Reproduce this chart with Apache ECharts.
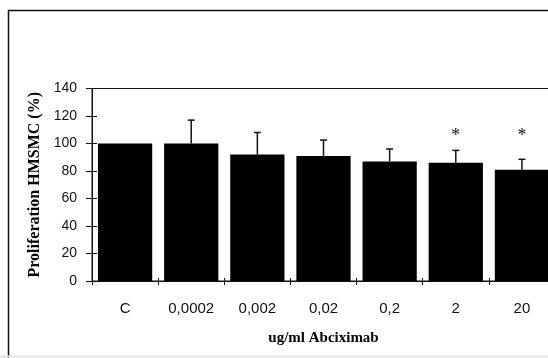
<!DOCTYPE html>
<html><head><meta charset="utf-8">
<script src="https://cdn.jsdelivr.net/npm/echarts@6/dist/echarts.min.js"></script>
<style>html,body{margin:0;padding:0;background:#fff}#c{width:548px;height:358px}</style>
</head><body><div id="c"></div>
<script>
const categories = ['C', '0,0002', '0,002', '0,02', '0,2', '2', '20'];
const values = [100, 100, 92, 91, 87, 86, 81];
const errors = [0, 17, 16, 11.5, 9, 9, 7.5];
const starMarks = ['', '', '', '', '', '*', '*'];
const starLevels = [null, null, null, null, null, 108, 108];
const yMin = 0, yMax = 140, yStep = 20;
const xTitle = 'ug/ml Abciximab';
const yTitle = 'Proliferation HMSMC (%)';

const chart = echarts.init(document.getElementById('c'), null, {renderer: 'canvas'});
const sansLabel = {fontFamily: 'Liberation Sans, Arial, sans-serif', color: '#111'};
const serifBold = {fontFamily: 'Liberation Serif, Times New Roman, serif', fontWeight: 'bold', color: '#000', fontSize: 15};
const serifBoldY = Object.assign({}, serifBold, {fontSize: 16});
const starData = starLevels.map((v, i) => [i, v, starMarks[i]]).filter(d => d[1] !== null);

chart.setOption({
  animation: false,
  backgroundColor: '#fff',
  graphic: [
    {type: 'polyline', shape: {points: [[8.5, 358], [8.5, 10.5], [548, 10.5]]}, style: {stroke: '#111', lineWidth: 1.5, fill: null}},
    {type: 'line', shape: {x1: 0, y1: 356.5, x2: 548, y2: 356.5}, style: {stroke: '#e4e4e4', lineWidth: 2}}
  ],
  grid: {left: 92, top: 88.5, width: 463, height: 192.5, outerBoundsMode: 'none', containLabel: false, show: true, borderColor: '#111', borderWidth: 1, backgroundColor: 'transparent'},
  xAxis: [
    {type: 'category', data: categories, position: 'bottom',
     axisLine: {lineStyle: {color: '#111', width: 1}},
     axisTick: {show: true, length: 4, lineStyle: {color: '#111'}},
     axisLabel: Object.assign({fontSize: 15, margin: 20}, sansLabel),
     name: xTitle, nameLocation: 'middle', nameGap: 50, nameTextStyle: serifBold},
    {type: 'category', data: categories, position: 'bottom',
     axisLine: {show: false}, axisTick: {show: true, inside: true, length: 3, lineStyle: {color: '#111'}},
     axisLabel: {show: false}}
  ],
  yAxis: [
    {type: 'value', min: yMin, max: yMax, interval: yStep, position: 'left',
     axisLine: {show: true, lineStyle: {color: '#111'}},
     axisTick: {show: true, length: 6, lineStyle: {color: '#111'}},
     splitLine: {show: false},
     axisLabel: Object.assign({fontSize: 14, margin: 15}, sansLabel),
     name: yTitle, nameLocation: 'middle', nameGap: 49, nameRotate: 90, nameTextStyle: serifBoldY},
    {type: 'value', min: yMin, max: yMax, interval: yStep, position: 'left', offset: 0,
     axisLine: {show: false}, axisTick: {show: true, inside: true, length: 5, lineStyle: {color: '#111'}},
     axisLabel: {show: false}, splitLine: {show: false}}
  ],
  series: [
    {type: 'bar', data: values, barWidth: '82%', itemStyle: {color: '#000'}, xAxisIndex: 0, yAxisIndex: 0, z: 2},
    {type: 'custom', xAxisIndex: 0, yAxisIndex: 0, z: 3,
     data: values.map((v, i) => [i, v, v + errors[i]]),
     renderItem: function (params, api) {
       if (api.value(2) <= api.value(1)) return null;
       const base = api.coord([api.value(0), api.value(1)]);
       const top = api.coord([api.value(0), api.value(2)]);
       const hw = 3.5;
       return {type: 'group', children: [
         {type: 'line', shape: {x1: base[0], y1: base[1], x2: top[0], y2: top[1]}, style: {stroke: '#111', lineWidth: 1.5}},
         {type: 'line', shape: {x1: top[0] - hw, y1: top[1], x2: top[0] + hw, y2: top[1]}, style: {stroke: '#111', lineWidth: 1.5}}
       ]};
     }},
    {type: 'custom', xAxisIndex: 0, yAxisIndex: 0, z: 4,
     data: starData,
     renderItem: function (params, api) {
       const p = api.coord([api.value(0), api.value(1)]);
       const d = starData[params.dataIndex];
       return {type: 'text', x: p[0], y: p[1] + 4, style: {text: d[2], fontFamily: 'Liberation Serif, serif', fontSize: 18, fill: '#111', align: 'center', verticalAlign: 'middle'}};
     }}
  ]
});
</script></body></html>
